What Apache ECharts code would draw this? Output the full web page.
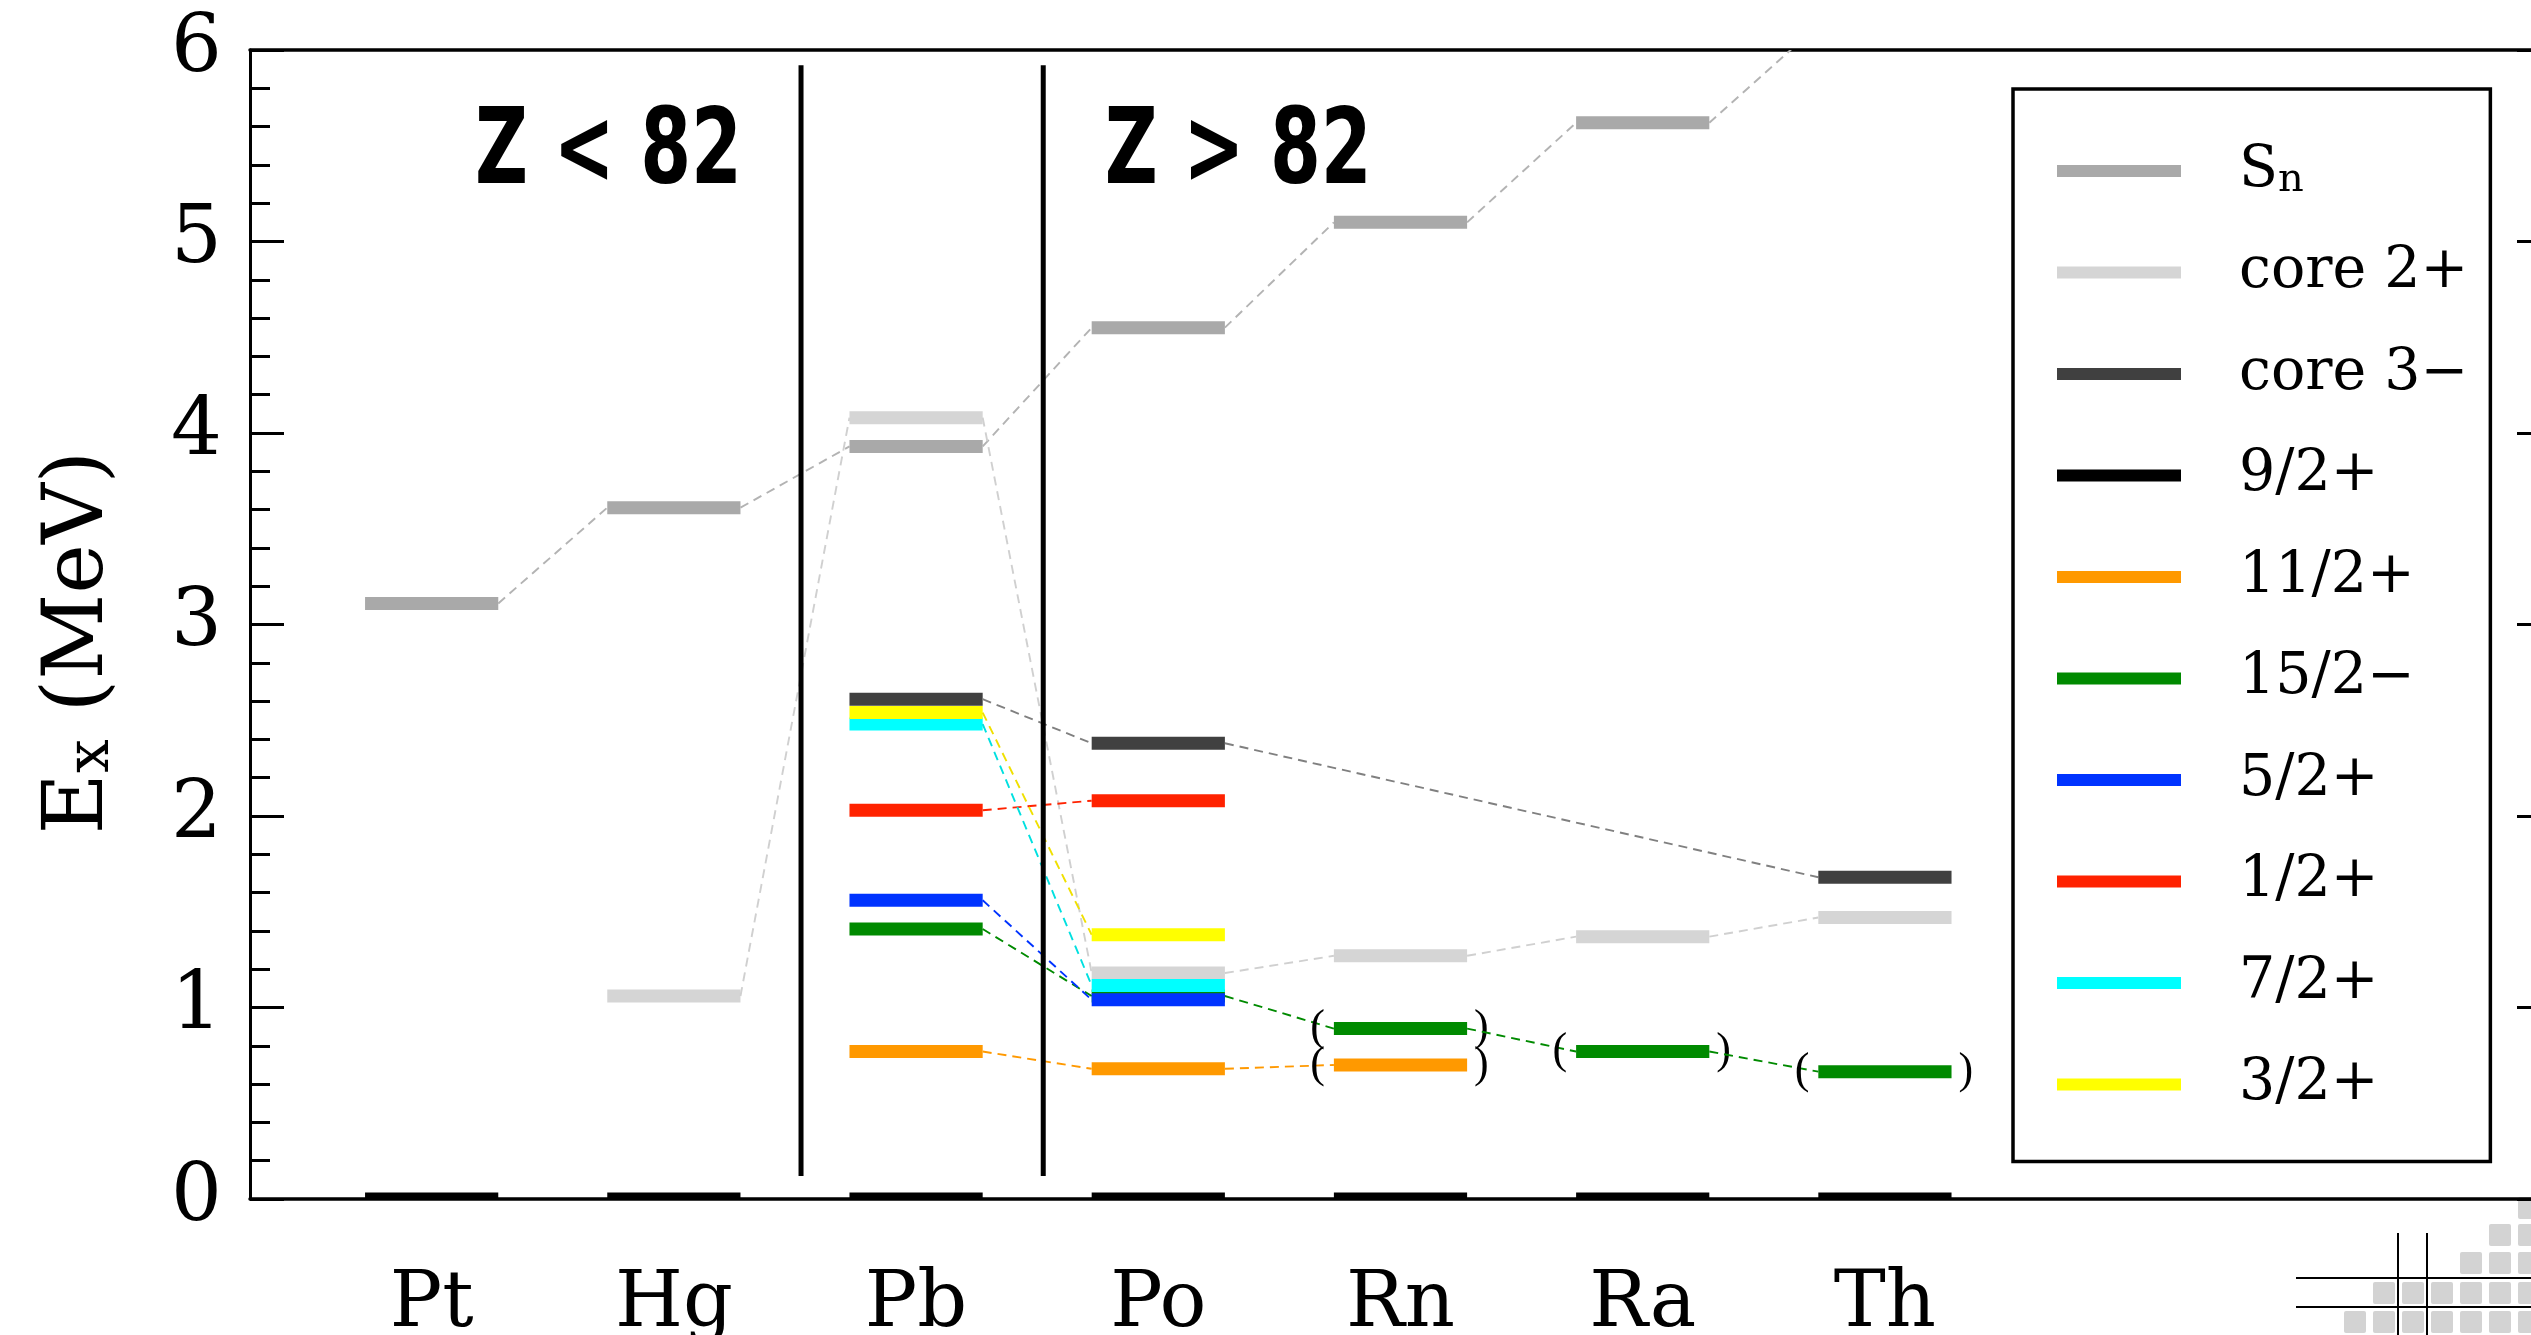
<!DOCTYPE html>
<html lang="en">
  <head>
    <meta charset="UTF-8">
    <title>Level systematics</title>
    <style>
      html, body { margin: 0; padding: 0; background: #fff; }
      .chart { width: 2531px; height: 1335px; }
    </style>
  </head>
  <body>
    <div id="chart" class="chart"></div>
    <script src="https://cdn.jsdelivr.net/npm/echarts@6/dist/echarts.min.js"></script>
    <script type="text/javascript">
      // element names along x, levels in MeV (null = not shown)
      var elements = ['Pt', 'Hg', 'Pb', 'Po', 'Rn', 'Ra', 'Th'];
      var snLevels = [3.11, 3.61, 3.93, 4.55, 5.10, 5.62, 6.13];
      var core2Levels = [null, 1.06, 4.08, 1.18, 1.27, 1.37, 1.47];
      var core3Levels = [null, null, 2.61, 2.38, null, null, 1.68];
      var g9Levels = [0, 0, 0, 0, 0, 0, 0];
      var i11Levels = [null, null, 0.77, 0.68, 0.70, null, null];
      var j15Levels = [null, null, 1.41, 1.06, 0.89, 0.77, 0.665];
      var d5Levels = [null, null, 1.56, 1.04, null, null, null];
      var s1Levels = [null, null, 2.03, 2.08, null, null, null];
      var g7Levels = [null, null, 2.48, 1.115, null, null, null];
      var d3Levels = [null, null, 2.54, 1.38, null, null, null];
      // tentative assignments, drawn in brackets
      var tentative11 = [0, 0, 0, 0, 1, 0, 0];
      var tentative15 = [0, 0, 0, 0, 1, 1, 1];
      var zoneLabels = ['Z < 82', 'Z > 82'];
      var zonePos = [[0.73, 5.45], [3.33, 5.45]];
      var dividerX = [1.525, 2.525];
      var yTicks = [0, 1, 2, 3, 4, 5, 6];

      var serif = "'DejaVu Serif', serif";
      var HALF = 0.275;

      var levelSets = [
        { name: 'Sn', values: snLevels, color: '#a9a9a9', link: '#b3b3b3' },
        { name: 'core 2+', values: core2Levels, color: '#d5d5d5', link: '#d0d0d0' },
        { name: 'core 3\u2212', values: core3Levels, color: '#404040', link: '#808080' },
        { name: '9/2+', values: g9Levels, color: '#000000', link: '#000000' },
        { name: '11/2+', values: i11Levels, color: '#ff9900', link: '#ff9900', tent: tentative11 },
        { name: '15/2\u2212', values: j15Levels, color: '#008a00', link: '#008a00', tent: tentative15 },
        { name: '5/2+', values: d5Levels, color: '#0033ff', link: '#0033ff' },
        { name: '1/2+', values: s1Levels, color: '#ff2200', link: '#ff2200' },
        { name: '7/2+', values: g7Levels, color: '#00ffff', link: '#00e0e0' },
        { name: '3/2+', values: d3Levels, color: '#ffff00', link: '#f0e000' }
      ];

      function buildData(values, tent) {
        var data = [], prev = null;
        values.forEach(function(v, i) {
          if (v == null) return;
          data.push([i, v, prev ? prev[0] : -99, prev ? prev[1] : 0, tent ? tent[i] : 0]);
          prev = [i, v];
        });
        return data;
      }

      function levelRenderer(set) {
        return function(params, api) {
          var x = api.value(0), y = api.value(1);
          var l = api.coord([x - HALF, y]);
          var r = api.coord([x + HALF, y]);
          var kids = [];
          if (api.value(2) > -1) {
            var p = api.coord([api.value(2) + HALF, api.value(3)]);
            kids.push({
              type: 'line',
              shape: { x1: p[0], y1: p[1], x2: l[0], y2: l[1] },
              style: { stroke: set.link, lineWidth: 1.9, lineDash: [9, 6] }
            });
          }
          kids.push({
            type: 'rect',
            shape: { x: l[0], y: l[1] - 6.5, width: r[0] - l[0], height: 13 },
            style: { fill: set.color }
          });
          if (api.value(4)) {
            var ps = { fontSize: 44, fontFamily: "'Liberation Serif', serif", fill: '#000', verticalAlign: 'middle' };
            kids.push({ type: 'text', x: l[0] - 9, y: l[1], style: echarts.util.extend({ text: '(', align: 'right' }, ps) });
            kids.push({ type: 'text', x: r[0] + 7, y: l[1], style: echarts.util.extend({ text: ')', align: 'left' }, ps) });
          }
          return { type: 'group', children: kids };
        };
      }

      var series = levelSets.map(function(set) {
        return {
          name: set.name,
          type: 'custom',
          clip: true,
          itemStyle: { color: set.color },
          encode: { x: 0, y: 1 },
          renderItem: levelRenderer(set),
          data: buildData(set.values, set.tent),
          silent: true
        };
      });

      // vertical separators between the regions
      series.push({
        type: 'custom',
        silent: true,
        encode: { x: 0, y: 1 },
        renderItem: function(params, api) {
          var a = api.coord([api.value(0), 0.12]);
          var b = api.coord([api.value(0), 5.92]);
          return { type: 'line', shape: { x1: a[0], y1: a[1], x2: b[0], y2: b[1] }, style: { stroke: '#000', lineWidth: 5 } };
        },
        data: dividerX.map(function(x) { return [x, 3]; })
      });

      // Z < 82 / Z > 82 text, condensed by scaling
      series.push({
        type: 'custom',
        silent: true,
        encode: { x: 0, y: 1 },
        renderItem: function(params, api) {
          var c = api.coord([api.value(0), api.value(1)]);
          return {
            type: 'text', x: c[0], y: c[1], scaleX: 0.69,
            style: {
              text: zoneLabels[params.dataIndex], fill: '#000', fontSize: 106, fontWeight: 'bold',
              fontFamily: "'DejaVu Sans', sans-serif",
              align: 'center', verticalAlign: 'middle'
            }
          };
        },
        data: zonePos
      });

      // small logo in the corner
      var logo = [];
      var rowsY = [1197, 1224, 1252, 1282, 1311];
      var rowsFrom = [6, 5, 4, 1, 0];
      rowsY.forEach(function(y, r) {
        for (var c = rowsFrom[r]; c < 7; c++) {
          logo.push({ type: 'rect', shape: { x: 2344 + c * 29, y: y, width: 22, height: 22, r: 2 }, style: { fill: '#d3d3d3' }, z: -1 });
        }
      });
      [1278, 1307].forEach(function(y) {
        logo.push({ type: 'line', shape: { x1: 2296, y1: y, x2: 2531, y2: y }, style: { stroke: '#000', lineWidth: 2 } });
      });
      [2398, 2427].forEach(function(x) {
        logo.push({ type: 'line', shape: { x1: x, y1: 1233, x2: x, y2: 1335 }, style: { stroke: '#000', lineWidth: 2 } });
      });

      var tickStyle = { color: '#000', width: 3 };

      var myChart = echarts.init(document.getElementById('chart'));
      var option = {
        backgroundColor: '#fff',
        animation: false,
        grid: { left: 250, top: 50, width: 2301, height: 1149, outerBoundsMode: 'none', containLabel: false },
        legend: {
          data: levelSets.map(function(s) { return s.name; }),
          orient: 'vertical',
          left: 2013,
          top: 89,
          icon: 'rect',
          itemWidth: 124,
          itemHeight: 12,
          itemGap: 41.5,
          selectedMode: false,
          padding: [52, 22, 47, 44],
          borderColor: '#000',
          borderWidth: 3.5,
          formatter: function(name) {
            return name === 'Sn' ? 'S{sub|n}' : name;
          },
          textStyle: {
            fontFamily: serif,
            fontSize: 57,
            lineHeight: 60,
            color: '#000',
            padding: [0, 0, 0, 53],
            rich: {
              sub: { fontFamily: serif, fontSize: 40, lineHeight: 60, verticalAlign: 'bottom', padding: [14, 0, 0, 0] }
            }
          }
        },
        xAxis: [{
          type: 'value',
          min: -0.75,
          max: 8.75,
          position: 'bottom',
          axisLine: { show: true, onZero: false, lineStyle: { color: '#000', width: 3.5 } },
          axisTick: { show: false },
          splitLine: { show: false },
          axisLabel: {
            customValues: [0, 1, 2, 3, 4, 5, 6],
            formatter: function(v) { return elements[Math.round(v)] || ''; },
            fontFamily: serif,
            fontSize: 78,
            color: '#000',
            margin: 68
          }
        }, {
          type: 'value',
          min: -0.75,
          max: 8.75,
          position: 'top',
          axisLine: { show: true, onZero: false, lineStyle: { color: '#000', width: 3.5 } },
          axisTick: { show: false },
          axisLabel: { show: false },
          splitLine: { show: false }
        }],
        yAxis: [{
          type: 'value',
          min: yTicks[0],
          max: yTicks[yTicks.length - 1],
          interval: 1,
          position: 'left',
          name: 'E{sub|x} (MeV)',
          nameLocation: 'middle',
          nameRotate: 90,
          nameGap: 128,
          nameTextStyle: {
            fontFamily: serif,
            fontSize: 84,
            color: '#000',
            padding: [0, 36, 0, 0],
            rich: {
              sub: { fontFamily: serif, fontSize: 60, verticalAlign: 'bottom', padding: [24, 0, 0, 0] }
            }
          },
          axisLine: { show: true, onZero: false, lineStyle: tickStyle },
          axisTick: { show: true, inside: true, length: 34, lineStyle: tickStyle },
          minorTick: { show: true, splitNumber: 5, length: 20, lineStyle: tickStyle },
          axisLabel: { fontFamily: serif, fontSize: 80, color: '#000', margin: 28 },
          splitLine: { show: false }
        }, {
          type: 'value',
          min: yTicks[0],
          max: yTicks[yTicks.length - 1],
          interval: 1,
          position: 'right',
          axisLine: { show: true, onZero: false, lineStyle: tickStyle },
          axisTick: { show: true, inside: true, length: 34, lineStyle: tickStyle },
          minorTick: { show: true, splitNumber: 5, length: 20, lineStyle: tickStyle },
          axisLabel: { show: false },
          splitLine: { show: false }
        }],
        graphic: logo,
        series: series
      };

      myChart.setOption(option);
    </script>
  </body>
</html>
